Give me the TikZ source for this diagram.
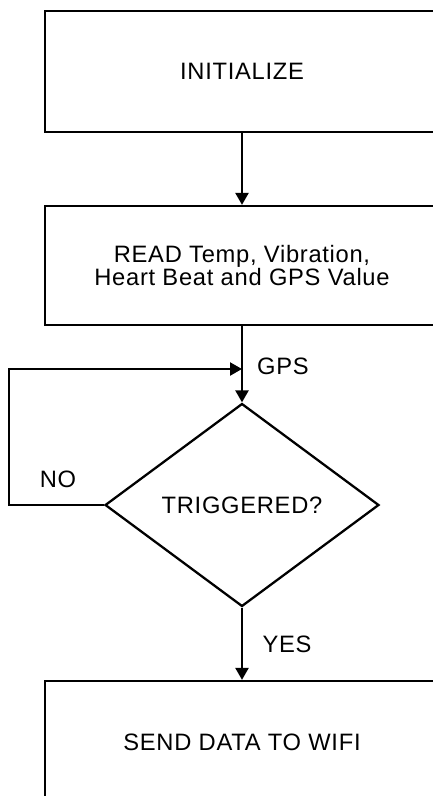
\documentclass[tikz,border=0pt]{standalone}
\usepackage{fontspec}
\setmainfont[LetterSpace=3]{Liberation Sans}
\usepackage{tikz}
\usetikzlibrary{arrows.meta,shapes.geometric}
\tikzset{
  flowbox/.style  = {draw,rectangle,line width=1.3pt,minimum width=7.88cm,
                     align=center,inner sep=0pt},
  decbox/.style   = {draw,diamond,line width=1.3pt,minimum width=5.48cm,
                     minimum height=4.06cm,inner sep=0pt},
  flowarr/.style  = {-{Triangle[length=2.4mm,width=2.6mm]},line width=1.3pt},
  lbl/.style      = {font=\fontsize{13.5}{12.6}\selectfont}
}

\begin{document}
\begin{tikzpicture}[x=0.02cm,y=-0.02cm,font=\fontsize{13.5}{12.6}\selectfont]
  \useasboundingbox (0,0) rectangle (433,796);
  \clip (0,0) rectangle (433,796);
  % steps
  \node[flowbox,minimum height=2.42cm] (init) at (242,71.5) {INITIALIZE};
  \node[flowbox,minimum height=2.38cm] (read) at (242,265.5)
        {READ Temp, Vibration,\\Heart Beat and GPS Value};
  \node[decbox] (trig) at (242,505) {TRIGGERED?};
  \node[flowbox,minimum height=2.44cm] (send) at (242,742) {SEND DATA TO WIFI};
  % loop points
  \coordinate (gpsin) at (242,369);
  \coordinate (loopleft) at (9,505);
  % connectors
  \draw[flowarr] (init) -- (read);
  \draw[flowarr] (read) -- (trig);
  \draw[flowarr] (trig.west) -- (loopleft) |- (gpsin);
  \draw[flowarr] (trig) -- (send);
  % labels
  \node[lbl,anchor=west] (gps) at (251,366) {GPS};
  \node[lbl] (no) at (58,479) {NO};
  \node[lbl] (yes) at (287,644) {YES};
\end{tikzpicture}
\end{document}
